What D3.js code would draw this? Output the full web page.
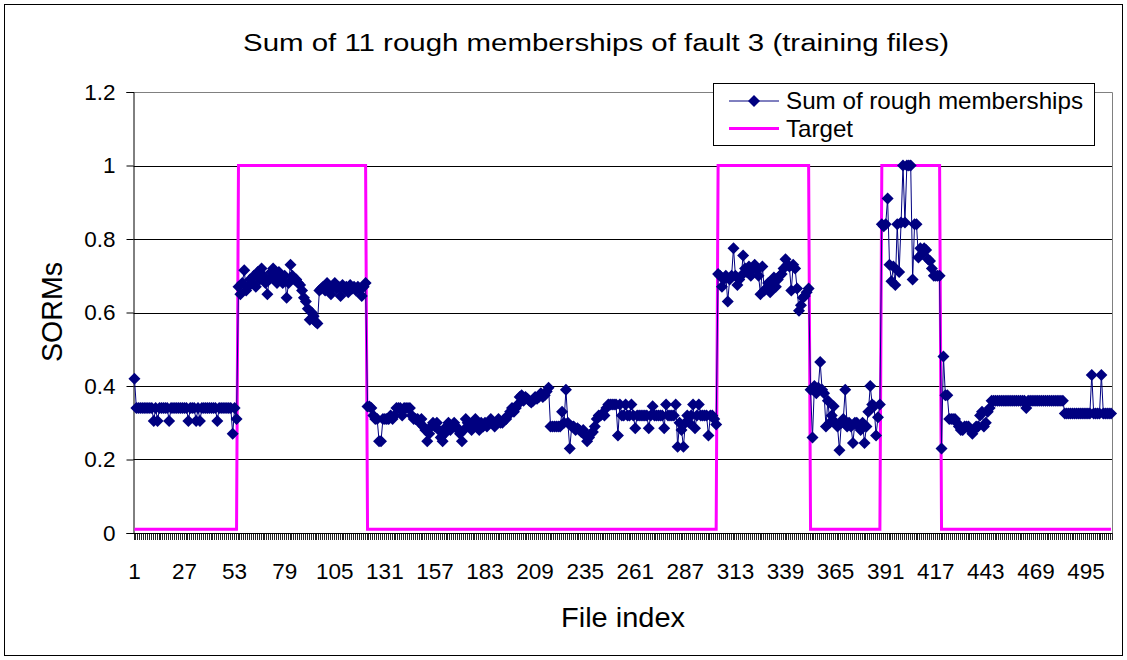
<!DOCTYPE html>
<html>
<head>
<meta charset="utf-8">
<script src="https://cdn.jsdelivr.net/npm/d3@7"></script>
<style>
  body { margin: 0; background: #fff; }
  text { font-family: "Liberation Sans", Arial, sans-serif; fill: #000; }
</style>
</head>
<body>
<div id="chart"></div>
<script>
// sum of rough memberships, one value per training file
const sorms = [
  0.42,0.34,0.34,0.34,0.34,0.34,0.34,0.34,0.34,0.34,
  0.305,0.34,0.305,0.34,0.34,0.34,0.34,0.34,0.305,0.34,
  0.34,0.34,0.34,0.34,0.34,0.34,0.34,0.34,0.305,0.34,
  0.34,0.34,0.305,0.34,0.305,0.34,0.34,0.34,0.34,0.34,
  0.34,0.34,0.34,0.305,0.34,0.34,0.34,0.34,0.34,0.34,
  0.34,0.27,0.34,0.31,0.67,0.65,0.68,0.715,0.66,0.67,
  0.69,0.68,0.70,0.67,0.71,0.69,0.72,0.70,0.68,0.65,
  0.69,0.71,0.72,0.70,0.68,0.71,0.69,0.68,0.70,0.64,
  0.68,0.73,0.70,0.69,0.69,0.68,0.675,0.66,0.64,0.63,
  0.61,0.58,0.60,0.59,0.575,0.57,0.66,0.665,0.67,0.66,
  0.68,0.665,0.65,0.67,0.68,0.665,0.67,0.645,0.675,0.665,
  0.67,0.655,0.675,0.665,0.67,0.66,0.67,0.665,0.645,0.67,
  0.68,0.344,0.344,0.34,0.32,0.31,0.31,0.25,0.25,0.31,
  0.31,0.31,0.31,0.32,0.31,0.32,0.34,0.34,0.34,0.32,
  0.34,0.34,0.34,0.34,0.32,0.31,0.31,0.31,0.30,0.31,
  0.29,0.28,0.25,0.27,0.29,0.30,0.29,0.30,0.28,0.26,
  0.25,0.27,0.29,0.30,0.28,0.29,0.30,0.29,0.28,0.27,
  0.25,0.28,0.31,0.30,0.29,0.28,0.30,0.31,0.29,0.28,
  0.30,0.29,0.30,0.29,0.30,0.31,0.30,0.29,0.30,0.31,
  0.30,0.30,0.31,0.31,0.32,0.33,0.34,0.33,0.34,0.35,
  0.37,0.375,0.36,0.37,0.365,0.36,0.355,0.36,0.37,0.365,
  0.37,0.38,0.37,0.375,0.385,0.395,0.29,0.29,0.29,0.29,
  0.29,0.29,0.33,0.30,0.39,0.30,0.23,0.29,0.29,0.28,
  0.285,0.28,0.275,0.28,0.265,0.25,0.26,0.27,0.275,0.29,
  0.31,0.32,0.32,0.325,0.32,0.34,0.35,0.35,0.35,0.35,
  0.35,0.265,0.35,0.32,0.32,0.35,0.32,0.32,0.35,0.32,
  0.285,0.32,0.32,0.32,0.32,0.32,0.32,0.285,0.32,0.345,
  0.32,0.32,0.32,0.32,0.32,0.285,0.35,0.32,0.32,0.32,
  0.32,0.35,0.235,0.30,0.28,0.235,0.30,0.32,0.30,0.32,
  0.35,0.285,0.32,0.35,0.32,0.32,0.32,0.32,0.265,0.32,
  0.32,0.31,0.295,0.705,0.70,0.67,0.69,0.70,0.63,0.69,
  0.70,0.775,0.70,0.675,0.69,0.70,0.755,0.72,0.71,0.725,
  0.70,0.72,0.73,0.715,0.70,0.65,0.725,0.66,0.665,0.68,
  0.655,0.68,0.695,0.67,0.69,0.70,0.705,0.72,0.745,0.73,
  0.725,0.66,0.73,0.72,0.665,0.605,0.62,0.64,0.645,0.655,
  0.665,0.39,0.26,0.40,0.38,0.395,0.465,0.39,0.38,0.29,
  0.36,0.30,0.32,0.345,0.30,0.29,0.225,0.30,0.31,0.39,
  0.29,0.30,0.29,0.245,0.30,0.30,0.29,0.28,0.30,0.245,
  0.29,0.33,0.40,0.35,0.345,0.265,0.315,0.35,0.84,0.835,
  0.84,0.91,0.73,0.685,0.725,0.675,0.84,0.71,0.845,1.0,
  0.845,1.0,1.0,1.0,0.69,0.84,0.84,0.75,0.775,0.76,
  0.775,0.77,0.745,0.74,0.72,0.70,0.70,0.70,0.70,0.23,
  0.48,0.375,0.375,0.31,0.31,0.31,0.31,0.30,0.29,0.28,
  0.28,0.29,0.29,0.29,0.28,0.27,0.28,0.29,0.29,0.32,
  0.33,0.29,0.30,0.33,0.34,0.36,0.36,0.36,0.36,0.36,
  0.36,0.36,0.36,0.36,0.36,0.36,0.36,0.36,0.36,0.36,
  0.36,0.36,0.36,0.34,0.36,0.36,0.36,0.36,0.36,0.36,
  0.36,0.36,0.36,0.36,0.36,0.36,0.36,0.36,0.36,0.36,
  0.36,0.36,0.36,0.325,0.325,0.325,0.325,0.325,0.325,0.325,
  0.325,0.325,0.325,0.325,0.325,0.325,0.325,0.43,0.325,0.325,
  0.325,0.325,0.43,0.325,0.325,0.325,0.325,0.325
]

// files where the target is "fault 3" (first, last index)
const targetOn = [[55, 121], [304, 351], [389, 419]]
const targetLow = 0.01
const targetHigh = 1

const yTicks = [0, 0.2, 0.4, 0.6, 0.8, 1, 1.2]
const xTickLabels = [1, 27, 53, 79, 105, 131, 157, 183, 209, 235, 261, 287, 313, 339, 365, 391, 417, 443, 469, 495]
const seriesNames = ["Sum of rough memberships", "Target"]

const width = 1127
const height = 660
const plot = {left: 133.5, right: 1112, top: 92, bottom: 533}

const files = sorms.map((d, i) => i + 1)
const target = files.map(f => targetOn.some(([a, b]) => f >= a && f <= b) ? targetHigh : targetLow)

const x = d3.scaleBand().domain(files).range([plot.left, plot.right])
const y = d3.scaleLinear().domain([0, 1.2]).range([plot.bottom, plot.top])
const cx = f => x(f) + x.bandwidth() / 2

const svg = d3.select("#chart").append("svg")
    .attr("width", width)
    .attr("height", height)

svg.append("rect")
    .attr("x", 4.5).attr("y", 4.5)
    .attr("width", width - 9).attr("height", height - 9)
    .attr("fill", "#fff")
    .attr("stroke", "#000")

//gridlines
svg.append("g")
    .selectAll()
    .data(yTicks.filter(v => v > 0 && v < 1.2))
    .join("line")
        .attr("x1", plot.left).attr("x2", plot.right)
        .attr("y1", d => Math.round(y(d)) + 0.5).attr("y2", d => Math.round(y(d)) + 0.5)
        .attr("stroke", "#000")

// plot area border (top and right, grey)
svg.append("path")
    .attr("d", `M${plot.left},${y(1.2) + 0.5}H${plot.right + 0.5}V${plot.bottom}`)
    .attr("fill", "none")
    .attr("stroke", "#808080")

//y axis
const yAxis = svg.append("g")
    .attr("transform", `translate(${plot.left},0)`)
    .call(d3.axisLeft(y).tickValues(yTicks).tickSize(7).tickPadding(11)
        .tickFormat(d => d3.format("")(+d.toFixed(1))))
yAxis.select(".domain").attr("stroke", "#000")
yAxis.selectAll("text").attr("font-size", 22.5).attr("font-family", "Liberation Sans, Arial, sans-serif")

//x axis: one tick per file boundary, labels every 26 files
const tickX = d => Math.round(d === null ? plot.right : x(d)) + 0.5
svg.append("g")
    .attr("stroke", "#222")
    .selectAll()
    .data(files.concat([null]))
    .join("line")
        .attr("x1", tickX)
        .attr("x2", tickX)
        .attr("y1", plot.bottom).attr("y2", plot.bottom + 7)

const xAxis = svg.append("g")
    .attr("transform", `translate(0,${plot.bottom})`)
    .call(d3.axisBottom(x).tickValues(xTickLabels).tickSize(0).tickPadding(30))
xAxis.select(".domain").remove()
xAxis.selectAll("text").attr("font-size", 22.5).attr("font-family", "Liberation Sans, Arial, sans-serif")

svg.append("line")
    .attr("x1", plot.left).attr("x2", plot.right)
    .attr("y1", plot.bottom + 0.5).attr("y2", plot.bottom + 0.5)
    .attr("stroke", "#000")

// target line
svg.append("path")
    .datum(files)
    .attr("fill", "none")
    .attr("stroke", "#ff00ff")
    .attr("stroke-width", 3)
    .attr("d", d3.line().x(cx).y(f => y(target[f - 1])))

// SORM line + diamonds
svg.append("path")
    .datum(files)
    .attr("fill", "none")
    .attr("stroke", "#000080")
    .attr("stroke-width", 1)
    .attr("d", d3.line().x(cx).y(f => y(sorms[f - 1])))

const diamond = r => `M0,${-r}L${r},0L0,${r}L${-r},0Z`

svg.append("g")
    .attr("fill", "#000080")
    .selectAll()
    .data(files)
    .join("path")
        .attr("transform", f => `translate(${cx(f)},${y(sorms[f - 1])})`)
        .attr("d", diamond(6))

//legend
const legend = svg.append("g")
legend.append("rect")
    .attr("x", 713.5).attr("y", 83.5)
    .attr("width", 381).attr("height", 62)
    .attr("fill", "#fff")
    .attr("stroke", "#000")
legend.append("line")
    .attr("x1", 729).attr("x2", 779).attr("y1", 101).attr("y2", 101)
    .attr("stroke", "#000080")
legend.append("path")
    .attr("transform", "translate(754,101)")
    .attr("d", diamond(6))
    .attr("fill", "#000080")
legend.append("line")
    .attr("x1", 729).attr("x2", 779).attr("y1", 128.5).attr("y2", 128.5)
    .attr("stroke", "#ff00ff").attr("stroke-width", 3)
legend.selectAll("text")
    .data(seriesNames)
    .join("text")
        .attr("x", 786)
        .attr("y", (d, i) => 109 + i * 28)
        .attr("font-size", 24)
        .attr("textLength", (d, i) => i === 0 ? 297 : 67)
        .attr("lengthAdjust", "spacingAndGlyphs")
        .text(d => d)

//titles
svg.append("text")
    .attr("x", 596).attr("y", 50.5)
    .attr("text-anchor", "middle")
    .attr("font-size", 23)
    .attr("textLength", 706)
    .attr("lengthAdjust", "spacingAndGlyphs")
    .text("Sum of 11 rough memberships of fault 3 (training files)")

svg.append("text")
    .attr("x", 623).attr("y", 627)
    .attr("text-anchor", "middle")
    .attr("font-size", 27)
    .attr("textLength", 124)
    .attr("lengthAdjust", "spacingAndGlyphs")
    .text("File index")

svg.append("text")
    .attr("transform", "translate(62,312) rotate(-90)")
    .attr("text-anchor", "middle")
    .attr("font-size", 30)
    .attr("textLength", 100)
    .attr("lengthAdjust", "spacingAndGlyphs")
    .text("SORMs")
</script>
</body>
</html>
